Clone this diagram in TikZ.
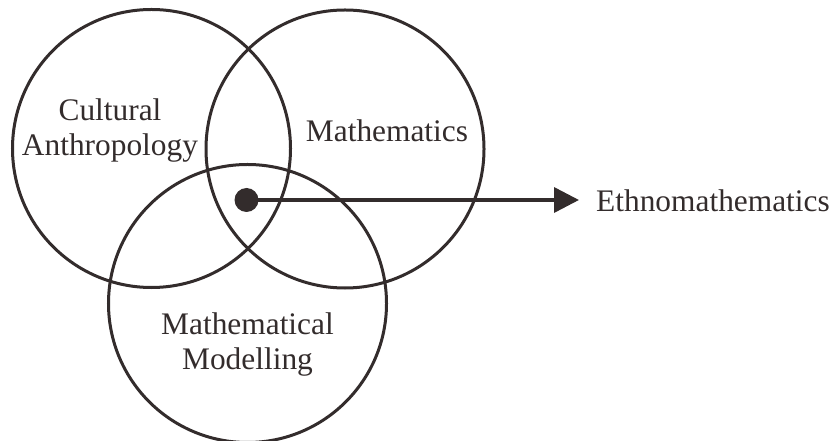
\documentclass[tikz,border=0pt]{standalone}
\usepackage{fontspec}
\setmainfont{Liberation Serif}
\usetikzlibrary{arrows.meta}
\definecolor{ink}{RGB}{51,44,44}
\begin{document}
\begin{tikzpicture}[x=1bp,y=-1bp,
  ring/.style={circle,draw=ink,line width=3bp,minimum size=278bp,inner sep=0pt},
  lbl/.style={text=ink,font=\fontsize{31.5}{35.5}\selectfont,align=center,inner sep=0pt},
  dotnode/.style={circle,fill=ink,minimum size=24bp,inner sep=0pt},
  link/.style={draw=ink,line width=3.5bp,-{Triangle[length=25bp,width=25bp]}}]
\useasboundingbox (0,0) rectangle (836,441);
\node[ring] (cult) at (151.5,148.5) {};
\node[ring] (math) at (345,149) {};
\node[ring] (model) at (247.5,303.5) {};
\node[lbl,anchor=base] (cultlbl) at (110,155.7) {Cultural\\Anthropology};
\node[lbl,anchor=base] (mathlbl) at (387,141.7) {Mathematics};
\node[lbl,anchor=base] (modellbl) at (247.5,370) {Mathematical\\Modelling};
\node[dotnode] (dot) at (246.5,200) {};
\coordinate (tip) at (579,200);
\node[lbl,anchor=base west] (ethno) at (596,211.7) {Ethnomathematics};
\draw[link] (dot.center) -- (tip);
\end{tikzpicture}
\end{document}
